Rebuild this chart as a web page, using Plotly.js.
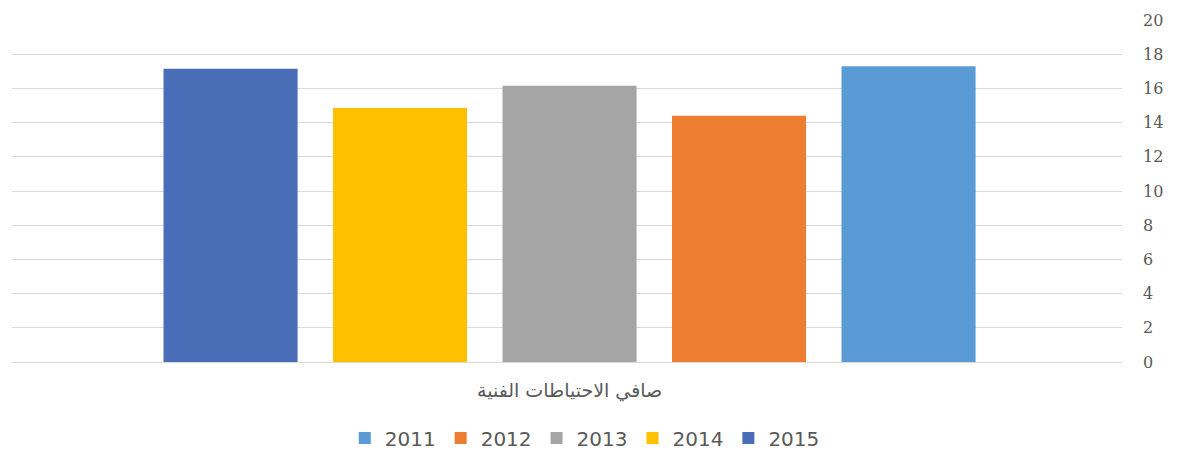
<!DOCTYPE html>
<html>
<head>
<meta charset="utf-8">
<script src="https://cdn.plot.ly/plotly-3.0.1.min.js"></script>
<style>html,body{margin:0;padding:0;background:#fff;}#chart{width:1187px;height:461px;}</style>
</head>
<body>
<div id="chart"></div>
<script>
var category = ["صافي الاحتياطات الفنية"];
var years = ["2011", "2012", "2013", "2014", "2015"];
var values = [17.3, 14.4, 16.15, 14.85, 17.15];
var colors = ["#5B9BD5", "#ED7D31", "#A5A5A5", "#FFC000", "#4A6DB8"];
var yTicks = [0, 2, 4, 6, 8, 10, 12, 14, 16, 18, 20];

var traces = years.map(function (yr, i) {
  return {
    type: "bar",
    name: yr,
    x: category,
    y: [values[i]],
    marker: { color: colors[i] },
    hoverinfo: "name+y"
  };
});

var layout = {
  width: 1187,
  height: 461,
  margin: { l: 12, r: 65, t: 19.5, b: 98.5, autoexpand: false },
  paper_bgcolor: "#fff",
  plot_bgcolor: "#fff",
  barmode: "group",
  bargap: 0.2365,
  bargroupgap: 0.209,
  showlegend: true,
  legend: {
    orientation: "h",
    x: 0.516, xanchor: "center",
    yref: "container",
    y: 0.05, yanchor: "middle",
    font: { family: "DejaVu Sans, sans-serif", size: 20, color: "#595959" },
    itemwidth: 30,
    tracegroupgap: 0
  },
  xaxis: {
    range: [0.5023, -0.4977],
    showgrid: false,
    showline: false,
    zeroline: false,
    ticks: "",
    automargin: false,
    ticklabelstandoff: 15,
    tickfont: { family: "DejaVu Sans, sans-serif", size: 19, color: "#595959" }
  },
  yaxis: {
    side: "right",
    range: [0, 20],
    automargin: false,
    tickvals: yTicks,
    ticktext: yTicks.map(String),
    showgrid: true,
    gridcolor: "#D9D9D9",
    gridwidth: 1,
    zeroline: true,
    zerolinecolor: "#D9D9D9",
    zerolinewidth: 1,
    showline: false,
    ticks: "",
    ticklabelstandoff: 20,
    tickfont: { family: "DejaVu Serif, serif", size: 16, color: "#595959" }
  }
};

Plotly.newPlot("chart", traces, layout, { displayModeBar: false, staticPlot: true });
</script>
</body>
</html>
